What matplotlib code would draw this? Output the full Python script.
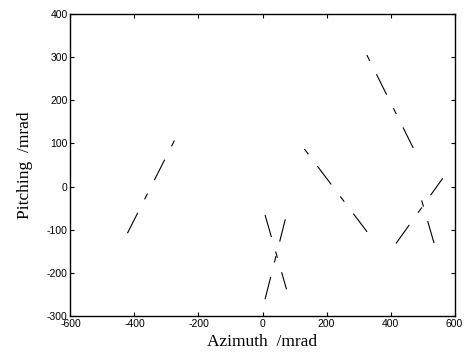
import matplotlib
matplotlib.use("Agg")
import matplotlib.pyplot as plt

plt.rcParams['lines.scale_dashes'] = False

# Data (mrad)
line1_x = [-422, -273]
line1_y = [-108, 110]
line2a_x = [8, 75]
line2a_y = [-66, -238]
line2b_x = [8, 73]
line2b_y = [-261, -71]
line3_x = [131, 333]
line3_y = [87, -111]
line4a_x = [326, 474]
line4a_y = [305, 85]
line4b_x = [536, 488]
line4b_y = [-131, -8]
line5_x = [417, 563]
line5_y = [-132, 19]

xticks = [-600, -400, -200, 0, 200, 400, 600]
yticks = [-300, -200, -100, 0, 100, 200, 300, 400]

fig = plt.figure(figsize=(4.68, 3.58), dpi=100)
ax = fig.add_axes([0.1506, 0.1173, 0.8206, 0.8436])

pattern = (16.5, 10.8, 4.7, 10.8)
style_long = dict(color='black', linewidth=0.8, linestyle=(0, pattern))
style_short = dict(color='black', linewidth=0.8, linestyle=(27.3, pattern))

ax.plot(line1_x, line1_y, **style_long)
ax.plot(line2a_x, line2a_y, **style_long)
ax.plot(line2b_x, line2b_y, **style_long)
ax.plot(line3_x, line3_y, **style_short)
ax.plot(line4a_x, line4a_y, **style_short)
ax.plot(line4b_x, line4b_y, **style_long)
ax.plot(line5_x, line5_y, **style_long)

ax.set_xlim(-600, 600)
ax.set_ylim(-300, 400)
ax.set_xticks(xticks)
ax.set_yticks(yticks)
ax.set_xticklabels([str(v) for v in xticks], fontfamily='Liberation Sans', fontsize=7.5)
ax.set_yticklabels([str(v) for v in yticks], fontfamily='Liberation Sans', fontsize=7.5)
ax.tick_params(direction='in', length=3, width=0.8, top=True, right=True, pad=2)
for s in ax.spines.values():
    s.set_linewidth(1.0)

ax.set_xlabel('Azimuth  /mrad', fontfamily='Liberation Serif', fontsize=12.5, labelpad=4)
ax.set_ylabel('Pitching  /mrad', fontfamily='Liberation Serif', fontsize=12.5, labelpad=10)

fig.savefig('out.png', dpi=100)
